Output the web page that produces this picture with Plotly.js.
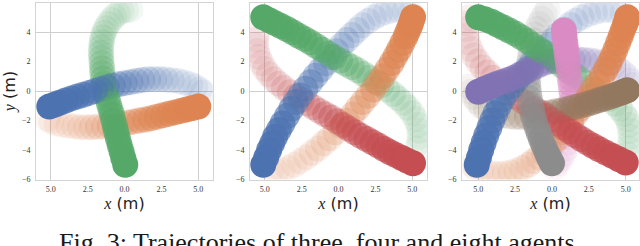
<!DOCTYPE html>
<html>
<head>
<meta charset="utf-8">
<script src="https://cdn.plot.ly/plotly-3.0.1.min.js"></script>
<style>html,body{margin:0;padding:0;background:#fff;}#chart{width:640px;height:246px;}</style>
</head>
<body>
<div id="chart"></div>
<script>
// ---------- tick labels ----------
const xTickVals = [-5, -2.5, 0, 2.5, 5];
const xTickText = ['5.0', '2.5', '0.0', '2.5', '5.0'];
const yTickVals = [-6, -4, -2, 0, 2, 4, 6];
const yTickText = ['\u22126', '\u22124', '\u22122', '0', '2', '4', '6'];
const xGridVals = [-5, 5];
const yGridVals = [0, 4];
const caption = 'Fig. 3: Trajectories of three, four and eight agents.';

// ---------- panel 1: three agents (start -> end) ----------
const three_blue_x   = [5.3, 5.1, 4.8, 4.45, 4.05, 3.65, 3.2, 2.8, 2.4, 2.0, 1.6, 1.2, 0.8, 0.4, 0.0, -0.4, -0.8, -1.2, -1.6, -2.0, -2.4, -2.8, -3.2, -3.6, -4.0, -4.4, -4.75, -5.1];
const three_blue_y   = [-0.1, 0.1, 0.3, 0.45, 0.57, 0.67, 0.73, 0.78, 0.8, 0.8, 0.79, 0.75, 0.68, 0.6, 0.53, 0.45, 0.36, 0.25, 0.13, 0.0, -0.13, -0.25, -0.38, -0.5, -0.65, -0.8, -0.93, -1.05];
const three_orange_x = [-5.2, -4.95, -4.6, -4.2, -3.8, -3.4, -3.0, -2.6, -2.2, -1.8, -1.4, -1.0, -0.6, -0.2, 0.2, 0.6, 1.0, 1.4, 1.8, 2.2, 2.6, 3.0, 3.4, 3.8, 4.2, 4.6, 5.0];
const three_orange_y = [-1.9, -2.07, -2.2, -2.3, -2.35, -2.4, -2.45, -2.46, -2.45, -2.43, -2.4, -2.35, -2.3, -2.23, -2.15, -2.08, -2.0, -1.93, -1.85, -1.75, -1.65, -1.55, -1.45, -1.35, -1.25, -1.15, -1.05];
const three_green_x  = [0.4, 0.1, -0.2, -0.45, -0.7, -0.9, -1.1, -1.27, -1.4, -1.5, -1.55, -1.58, -1.6, -1.58, -1.55, -1.52, -1.5, -1.45, -1.4, -1.33, -1.25, -1.15, -1.05, -0.95, -0.85, -0.75, -0.65, -0.55, -0.45, -0.33, -0.2, -0.08, 0.05];
const three_green_y  = [5.5, 5.48, 5.4, 5.25, 5.05, 4.82, 4.55, 4.25, 3.95, 3.63, 3.3, 2.95, 2.6, 2.25, 1.9, 1.55, 1.2, 0.85, 0.5, 0.15, -0.2, -0.55, -0.9, -1.25, -1.6, -2.0, -2.4, -2.8, -3.2, -3.65, -4.1, -4.55, -5.0];

// ---------- panel 2: four agents ----------
const four_blue_x   = [4.9, 4.5, 4.1, 3.65, 3.2, 2.8, 2.4, 2.0, 1.6, 1.25, 0.9, 0.55, 0.2, -0.15, -0.5, -0.85, -1.2, -1.55, -1.9, -2.25, -2.6, -2.9, -3.2, -3.5, -3.8, -4.05, -4.3, -4.5, -4.7, -4.9, -5.1];
const four_blue_y   = [5.3, 5.42, 5.5, 5.45, 5.35, 5.2, 5.0, 4.75, 4.45, 4.13, 3.8, 3.45, 3.1, 2.7, 2.3, 1.88, 1.45, 1.03, 0.6, 0.15, -0.3, -0.75, -1.2, -1.7, -2.2, -2.65, -3.1, -3.55, -4.0, -4.5, -5.0];
const four_orange_x = [-4.6, -4.2, -3.8, -3.4, -3.0, -2.6, -2.2, -1.8, -1.4, -1.0, -0.6, -0.2, 0.2, 0.57, 0.95, 1.3, 1.65, 2.0, 2.35, 2.68, 3.0, 3.3, 3.6, 3.85, 4.1, 4.33, 4.55, 4.7, 4.85, 4.95, 5.05];
const four_orange_y = [-5.45, -5.42, -5.35, -5.2, -5.0, -4.77, -4.5, -4.2, -3.9, -3.55, -3.2, -2.8, -2.4, -2.0, -1.6, -1.17, -0.75, -0.33, 0.1, 0.55, 1.0, 1.45, 1.9, 2.35, 2.8, 3.25, 3.7, 4.05, 4.4, 4.7, 5.0];
const four_green_x  = [5.3, 5.45, 5.5, 5.48, 5.4, 5.22, 5.0, 4.72, 4.4, 4.05, 3.7, 3.3, 2.9, 2.5, 2.1, 1.7, 1.3, 0.9, 0.5, 0.1, -0.3, -0.7, -1.1, -1.5, -1.9, -2.3, -2.7, -3.1, -3.5, -3.9, -4.3, -4.7, -5.1];
const four_green_y  = [-3.9, -3.5, -3.1, -2.7, -2.3, -1.9, -1.5, -1.14, -0.8, -0.5, -0.2, 0.1, 0.4, 0.65, 0.9, 1.15, 1.4, 1.63, 1.85, 2.07, 2.3, 2.55, 2.8, 3.05, 3.3, 3.53, 3.75, 3.98, 4.2, 4.4, 4.6, 4.8, 5.0];
const four_red_x    = [-5.5, -5.58, -5.6, -5.52, -5.4, -5.22, -5.0, -4.72, -4.4, -4.05, -3.7, -3.3, -2.9, -2.5, -2.1, -1.7, -1.3, -0.9, -0.5, -0.1, 0.3, 0.7, 1.1, 1.5, 1.9, 2.3, 2.7, 3.1, 3.5, 3.9, 4.3, 4.68, 5.05];
const four_red_y    = [3.9, 3.5, 3.1, 2.7, 2.3, 1.9, 1.5, 1.14, 0.8, 0.5, 0.2, -0.08, -0.35, -0.6, -0.85, -1.1, -1.35, -1.58, -1.8, -2.05, -2.3, -2.55, -2.8, -3.03, -3.25, -3.48, -3.7, -3.93, -4.15, -4.35, -4.55, -4.73, -4.9];

// ---------- panel 3: eight agents ----------
const eight_blue_x   = [4.8, 4.3, 3.8, 3.35, 2.9, 2.45, 2.0, 1.6, 1.2, 0.8, 0.4, 0.05, -0.3, -0.65, -1.0, -1.35, -1.7, -2.05, -2.4, -2.72, -3.05, -3.33, -3.6, -3.83, -4.05, -4.25, -4.45, -4.63, -4.8, -4.95, -5.1];
const eight_blue_y   = [5.3, 5.42, 5.5, 5.45, 5.35, 5.2, 5.0, 4.77, 4.5, 4.17, 3.8, 3.43, 3.05, 2.68, 2.3, 1.9, 1.5, 1.13, 0.75, 0.33, -0.1, -0.55, -1.0, -1.5, -2.0, -2.5, -3.0, -3.5, -4.0, -4.5, -5.0];
const eight_orange_x = [-5.4, -5.15, -4.8, -4.4, -4.0, -3.6, -3.2, -2.8, -2.4, -2.0, -1.6, -1.25, -0.9, -0.55, -0.2, 0.1, 0.4, 0.7, 1.0, 1.3, 1.6, 1.9, 2.2, 2.5, 2.8, 3.1, 3.4, 3.65, 3.9, 4.1, 4.3, 4.48, 4.65, 4.8, 4.95, 5.05, 5.1];
const eight_orange_y = [-5.0, -5.25, -5.4, -5.52, -5.6, -5.62, -5.6, -5.52, -5.4, -5.22, -5.0, -4.75, -4.5, -4.2, -3.9, -3.55, -3.2, -2.8, -2.4, -2.0, -1.6, -1.2, -0.8, -0.35, 0.1, 0.55, 1.0, 1.45, 1.9, 2.35, 2.8, 3.25, 3.7, 4.1, 4.5, 4.75, 5.0];
const eight_green_x  = [5.1, 5.22, 5.3, 5.32, 5.3, 5.22, 5.1, 4.88, 4.6, 4.27, 3.9, 3.5, 3.1, 2.7, 2.3, 1.9, 1.5, 1.1, 0.7, 0.3, -0.1, -0.5, -0.9, -1.3, -1.7, -2.1, -2.5, -2.9, -3.3, -3.7, -4.1, -4.55, -5.0];
const eight_green_y  = [-4.3, -3.9, -3.5, -3.1, -2.7, -2.3, -1.9, -1.55, -1.2, -0.87, -0.55, -0.27, 0.0, 0.27, 0.55, 0.82, 1.1, 1.4, 1.7, 2.0, 2.3, 2.57, 2.85, 3.12, 3.4, 3.65, 3.9, 4.1, 4.3, 4.5, 4.7, 4.87, 5.0];
const eight_red_x    = [-5.6, -5.75, -5.8, -5.78, -5.7, -5.52, -5.3, -5.02, -4.7, -4.37, -4.0, -3.6, -3.2, -2.8, -2.4, -2.0, -1.6, -1.2, -0.8, -0.4, 0.0, 0.4, 0.8, 1.2, 1.6, 2.0, 2.4, 2.8, 3.2, 3.65, 4.1, 4.55, 5.0];
const eight_red_y    = [5.0, 4.6, 4.2, 3.75, 3.3, 2.85, 2.4, 2.0, 1.6, 1.25, 0.9, 0.55, 0.2, -0.1, -0.4, -0.68, -0.95, -1.2, -1.45, -1.7, -1.95, -2.22, -2.5, -2.75, -3.0, -3.25, -3.5, -3.73, -3.95, -4.18, -4.4, -4.63, -4.85];
const eight_purple_x = [5.5, 5.32, 5.1, 4.82, 4.5, 4.15, 3.8, 3.4, 3.0, 2.6, 2.2, 1.8, 1.4, 1.0, 0.6, 0.2, -0.2, -0.6, -1.0, -1.4, -1.8, -2.2, -2.6, -3.0, -3.4, -3.8, -4.2, -4.6, -5.0];
const eight_purple_y = [0.4, 0.7, 1.0, 1.27, 1.5, 1.67, 1.8, 1.92, 2.0, 2.06, 2.1, 2.13, 2.15, 2.13, 2.1, 2.05, 2.0, 1.87, 1.7, 1.5, 1.3, 1.1, 0.9, 0.75, 0.6, 0.45, 0.3, 0.13, -0.05];
const eight_brown_x  = [-5.6, -5.48, -5.3, -5.07, -4.8, -4.47, -4.1, -3.7, -3.3, -2.9, -2.5, -2.1, -1.7, -1.3, -0.9, -0.5, -0.1, 0.3, 0.7, 1.1, 1.5, 1.9, 2.3, 2.7, 3.1, 3.5, 3.9, 4.25, 4.6, 4.85, 5.1];
const eight_brown_y  = [0.3, -0.05, -0.4, -0.72, -1.0, -1.22, -1.4, -1.55, -1.65, -1.72, -1.75, -1.76, -1.75, -1.68, -1.6, -1.53, -1.45, -1.38, -1.3, -1.2, -1.1, -1.0, -0.9, -0.78, -0.65, -0.53, -0.4, -0.28, -0.15, -0.05, 0.05];
const eight_pink_x   = [0.2, 0.4, 0.6, 0.8, 0.95, 1.07, 1.15, 1.23, 1.3, 1.33, 1.35, 1.35, 1.35, 1.33, 1.3, 1.25, 1.2, 1.15, 1.1, 1.05, 1.0, 0.95, 0.9, 0.85, 0.8];
const eight_pink_y   = [-5.2, -4.9, -4.6, -4.25, -3.9, -3.5, -3.1, -2.7, -2.3, -1.9, -1.5, -1.1, -0.7, -0.3, 0.1, 0.5, 0.9, 1.3, 1.7, 2.1, 2.5, 2.9, 3.3, 3.7, 4.1];
const eight_grey_x   = [-0.3, -0.5, -0.7, -0.88, -1.05, -1.18, -1.3, -1.38, -1.45, -1.5, -1.55, -1.58, -1.6, -1.6, -1.6, -1.55, -1.5, -1.43, -1.35, -1.25, -1.15, -1.03, -0.9, -0.75, -0.6, -0.45, -0.3, -0.15, 0.0];
const eight_grey_y   = [5.5, 5.2, 4.9, 4.55, 4.2, 3.83, 3.45, 3.08, 2.7, 2.3, 1.9, 1.5, 1.1, 0.7, 0.3, -0.1, -0.5, -0.9, -1.3, -1.7, -2.1, -2.48, -2.85, -3.23, -3.6, -3.95, -4.3, -4.6, -4.9];

// ---------- styling ----------
const COL = {blue:'#4C72B0', orange:'#DD8452', green:'#55A868', red:'#C44E52',
             purple:'#8172B3', brown:'#937860', pink:'#DA8BC3', grey:'#8C8C8C'};
const MARKER_SIZE = 26;

// one trace per panel: circles of all agents sorted by their progress along the path,
// so later (more opaque) positions are drawn on top
function panelTrace(agents, ax) {
  const pts = [];
  agents.forEach(([xs, ys, color]) => {
    const n = xs.length;
    xs.forEach((x, i) => {
      const t = i / (n - 1);
      pts.push({x: x, y: ys[i], c: color, t: t, a: 0.08 + 0.92 * t * t});
    });
  });
  pts.sort((p, q) => p.t - q.t);
  const suf = ax === 1 ? '' : String(ax);
  return {
    type: 'scatter', mode: 'markers',
    x: pts.map(p => p.x), y: pts.map(p => p.y),
    xaxis: 'x' + suf, yaxis: 'y' + suf,
    marker: {size: MARKER_SIZE, color: pts.map(p => p.c), opacity: pts.map(p => p.a), line: {width: 0}},
    hoverinfo: 'skip', showlegend: false, cliponaxis: true
  };
}

const data = [
  panelTrace([
    [three_blue_x, three_blue_y, COL.blue],
    [three_orange_x, three_orange_y, COL.orange],
    [three_green_x, three_green_y, COL.green]
  ], 1),
  panelTrace([
    [four_blue_x, four_blue_y, COL.blue],
    [four_orange_x, four_orange_y, COL.orange],
    [four_green_x, four_green_y, COL.green],
    [four_red_x, four_red_y, COL.red]
  ], 2),
  panelTrace([
    [eight_blue_x, eight_blue_y, COL.blue],
    [eight_orange_x, eight_orange_y, COL.orange],
    [eight_green_x, eight_green_y, COL.green],
    [eight_red_x, eight_red_y, COL.red],
    [eight_purple_x, eight_purple_y, COL.purple],
    [eight_brown_x, eight_brown_y, COL.brown],
    [eight_pink_x, eight_pink_y, COL.pink],
    [eight_grey_x, eight_grey_y, COL.grey]
  ], 3)
];

const W = 640, H = 246;
const yDom = [(H - 179.5) / H, (H - 2.5) / H];
const tickFont = {family: 'Liberation Serif, DejaVu Serif, serif', size: 8, color: '#333'};
const titleFont = {family: 'DejaVu Sans, sans-serif', size: 16, color: '#222'};
const frameCol = '#d4d4d4';

function xax(left, right, range, anchor) {
  return {
    domain: [left / W, right / W], range: range, fixedrange: true, anchor: anchor,
    tickvals: xTickVals, ticktext: xTickText, ticks: '', showgrid: false, zeroline: false,
    showline: true, mirror: true, linecolor: frameCol, linewidth: 1,
    minor: {tickvals: xGridVals, showgrid: true, gridcolor: '#cfcfcf', gridwidth: 1, ticks: ''},
    tickfont: tickFont, ticklabelstandoff: 2,
    title: {text: '<span style="font-family:Liberation Serif"><i>x</i></span> (m)', font: titleFont, standoff: 2}
  };
}
function yax(anchor, withTitle) {
  const a = {
    domain: yDom, range: [-6, 6], fixedrange: true, anchor: anchor,
    tickvals: yTickVals, ticktext: yTickText, ticks: '', showgrid: false, zeroline: false,
    showline: true, mirror: true, linecolor: frameCol, linewidth: 1,
    minor: {tickvals: yGridVals, showgrid: true, gridcolor: '#cfcfcf', gridwidth: 1, ticks: ''},
    tickfont: tickFont, ticklabelstandoff: 3
  };
  if (withTitle) a.title = {text: '<span style="font-family:Liberation Serif"><i>y</i></span> (m)', font: titleFont, standoff: 5};
  return a;
}

const layout = {
  width: W, height: H,
  margin: {l: 0, r: 0, t: 0, b: 0, autoexpand: false},
  paper_bgcolor: '#ffffff', plot_bgcolor: '#ffffff',
  showlegend: false,
  xaxis: xax(36, 213, [-6, 6], 'y'), yaxis: yax('x', true),
  xaxis2: xax(250, 427, [-6, 6], 'y2'), yaxis2: yax('x2', false),
  xaxis3: xax(462, 639, [-6.1, 5.9], 'y3'), yaxis3: yax('x3', false),
  annotations: [{
    text: caption, xref: 'paper', yref: 'paper', x: 0.5, y: (H - 242) / H,
    xanchor: 'center', yanchor: 'middle', showarrow: false,
    font: {family: 'Liberation Serif, Times New Roman, serif', size: 26, color: '#1a1a1a'}
  }]
};

Plotly.newPlot('chart', data, layout, {staticPlot: true, displayModeBar: false});
</script>
</body>
</html>
